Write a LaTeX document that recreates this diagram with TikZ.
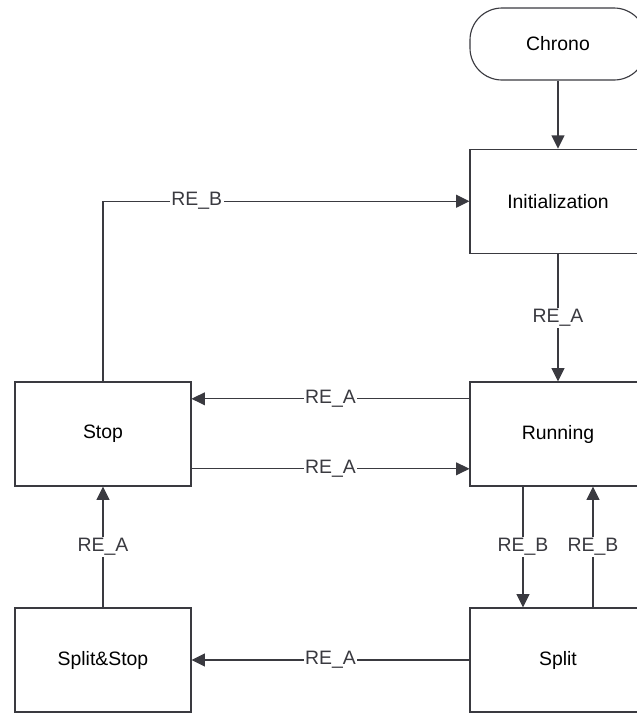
\documentclass[tikz,border=0pt]{standalone}
\usepackage{fontspec}
\setmainfont{Liberation Sans}
\usetikzlibrary{arrows.meta}
\definecolor{inkgray}{HTML}{3A3A40}
\begin{document}
\begin{tikzpicture}[
        statebox/.style={
            rectangle,
            draw=inkgray,
            fill=white,
            thick,
            minimum width=4.4cm,
            minimum height=2.6cm,
            align=center,
            font=\fontsize{13.8}{16}\selectfont
        },
        startbox/.style={
            rectangle,
            draw=inkgray,
            fill=white,
            thick,
            rounded corners=0.8cm,
            minimum width=4.4cm,
            minimum height=1.8cm,
            font=\fontsize{13.8}{16}\selectfont
        },
        arrow/.style={
            -{Triangle[length=0.33cm, width=0.32cm]},
            thick,
            draw=inkgray
        },
        event/.style={
            fill=white,
            inner sep=1pt,
            text=inkgray,
            font=\fontsize{13.8}{16}\selectfont
        }
    ]

    % --- Page frame (the states at the right and bottom run off the page) ---
    \useasboundingbox (0,0) rectangle (15.925,-17.825);
    \clip (0,0) rectangle (15.925,-17.825);

    % --- States ---
    \node[startbox] (chrono) at (13.95, -1.1) {Chrono};
    \node[statebox] (init) at (13.95, -5.03) {Initialization};
    \node[statebox] (running) at (13.95, -10.85) {Running};
    \node[statebox] (split) at (13.95, -16.5) {Split};
    \node[statebox] (stop) at (2.575, -10.85) {Stop};
    \node[statebox] (splitstop) at (2.575, -16.5) {Split\&Stop};

    % Transitions
    \draw[arrow] (chrono) -- (init);
    \draw[arrow] (init) -- node[event] {RE\_A} (running);
    \draw[arrow] (stop.north) |- node[event, pos=0.628] {RE\_B} (init.west);
    \draw[arrow] ([yshift=0.88cm]running.west) -- node[event] {RE\_A} ([yshift=0.88cm]stop.east);
    \draw[arrow] ([yshift=-0.87cm]stop.east) -- node[event] {RE\_A} ([yshift=-0.87cm]running.east -| running.west);
    \draw[arrow] ([xshift=-0.875cm]running.south) -- node[event] {RE\_B} ([xshift=-0.875cm]split.north);
    \draw[arrow] ([xshift=0.875cm]split.north) -- node[event] {RE\_B} ([xshift=0.875cm]running.south);
    \draw[arrow] (split) -- node[event] {RE\_A} (splitstop);
    \draw[arrow] (splitstop) -- node[event] {RE\_A} (stop);

\end{tikzpicture}
\end{document}
